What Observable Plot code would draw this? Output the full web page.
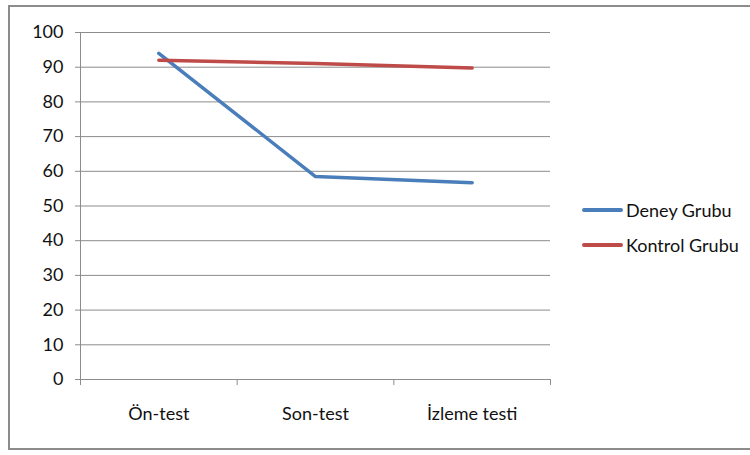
<!DOCTYPE html>
<html>
<head>
<meta charset="utf-8">
<script src="https://cdn.jsdelivr.net/npm/d3@7"></script>
<script src="https://cdn.jsdelivr.net/npm/@observablehq/plot@0.6"></script>
<style>
  html, body { margin: 0; padding: 0; background: #fff; }
  #wrap { position: relative; width: 750px; height: 455px; overflow: hidden; }
  #frame { position: absolute; left: 8px; top: 5px; width: 800px; height: 445px; border: 2px solid #8c8c8c; box-sizing: border-box; }
  #chart { position: absolute; left: 0; top: 0; }
  .legend { position: absolute; left: 582px; font-family: Lato, "DejaVu Sans Condensed", sans-serif; font-size: 18px; color: #111; }
  .legend div { display: flex; align-items: center; height: 24px; margin-bottom: 11px; }
  .legend span.sw { display: inline-block; width: 41px; height: 4px; border-radius: 2px; margin-right: 3px; }
</style>
</head>
<body>
<div id="wrap">
  <div id="frame"></div>
  <div id="chart"></div>
  <div class="legend" id="legend" style="top:198px"></div>
</div>
<script>
const categories = ["Ön-test", "Son-test", "İzleme testi"];
const seriesNames = ["Deney Grubu", "Kontrol Grubu"];
const deney = [94, 58.5, 56.7];
const kontrol = [92, 91.1, 89.8];
const colors = ["#4a7ebb", "#be4b48"];
const yTicks = [0, 10, 20, 30, 40, 50, 60, 70, 80, 90, 100];

const data = [];
categories.forEach((c, i) => {
  data.push({series: seriesNames[0], i, v: deney[i]});
  data.push({series: seriesNames[1], i, v: kontrol[i]});
});
const catIdx = categories.map((c, i) => i);
const boundaries = [-0.5, 0.5, 1.5, 2.5];
const font = 'Lato, "DejaVu Sans Condensed", sans-serif';

const chart = Plot.plot({
  width: 750,
  height: 455,
  marginLeft: 80,
  marginRight: 200,
  marginTop: 32,
  marginBottom: 76,
  style: {fontFamily: font, fontSize: "18px", color: "#111", background: "transparent"},
  x: {type: "linear", domain: [-0.5, 2.5]},
  y: {domain: [0, 100]},
  color: {domain: seriesNames, range: colors},
  marks: [
    Plot.ruleY(yTicks.filter(d => d > 0), {stroke: "#8c8c8c", strokeWidth: 1, strokeOpacity: 1}),
    Plot.ruleY([0], {stroke: "#8c8c8c", strokeWidth: 1}),
    Plot.ruleX([-0.5], {stroke: "#8c8c8c", strokeWidth: 1}),
    Plot.axisY({ticks: yTicks, tickSize: 5, tickPadding: 12, stroke: "#8c8c8c", label: null, tickFormat: d => String(d)}),
    Plot.axisX({ticks: boundaries, tickSize: 6, tickFormat: () => "", stroke: "#8c8c8c", label: null}),
    Plot.axisX({ticks: catIdx, tickSize: 0, tickPadding: 28, tickFormat: i => categories[i], label: null}),
    Plot.line(data, {x: "i", y: "v", z: "series", stroke: "series", strokeWidth: 3.5, strokeLinecap: "round", strokeLinejoin: "round"})
  ]
});
document.getElementById("chart").appendChild(chart);

const legend = document.getElementById("legend");
seriesNames.forEach((n, k) => {
  const row = document.createElement("div");
  const sw = document.createElement("span");
  sw.className = "sw";
  sw.style.background = colors[k];
  row.appendChild(sw);
  row.appendChild(document.createTextNode(n));
  legend.appendChild(row);
});
</script>
</body>
</html>
